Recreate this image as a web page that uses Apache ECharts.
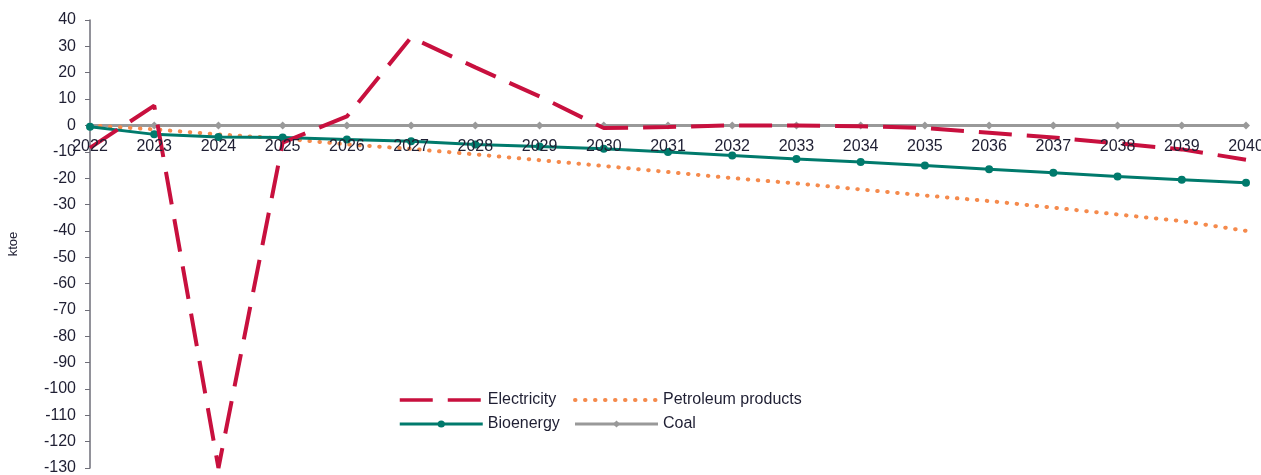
<!DOCTYPE html>
<html><head><meta charset="utf-8">
<script src="https://cdn.jsdelivr.net/npm/echarts@6/dist/echarts.min.js"></script>
<style>html,body{margin:0;padding:0;background:#fff}#c{width:1261px;height:475px}</style>
</head><body><div id="c"></div>
<script>
var years = ['2022','2023','2024','2025','2026','2027','2028','2029','2030','2031','2032','2033','2034','2035','2036','2037','2038','2039','2040'];
var electricity = [-8.5, 7.5, -130, -6.5, 3.4, 33.4, 22, 11, -1, -0.6, 0, 0, -0.3, -1, -2.8, -4.6, -6.8, -9.1, -13];
var petroleum = [0, -1.5, -3.4, -5, -7.2, -8.9, -11, -13.2, -15.4, -17.7, -20, -22, -24.3, -26.6, -28.7, -31.2, -33.8, -36.3, -40];
var bioenergy = [-0.5, -3.4, -4.4, -4.6, -5.3, -6, -7.2, -8, -8.9, -10.1, -11.4, -12.7, -13.9, -15.2, -16.6, -18, -19.4, -20.6, -21.8];
var coal = [0,0,0,0,0,0,0,0,0,0,0,0,0,0,0,0,0,0,0];
var txt = '#1f1f33';
var font = 'Liberation Sans';
var chart = echarts.init(document.getElementById('c'));
chart.setOption({
  animation: false,
  grid: {left: 90, right: 15, top: 20, bottom: 7, containLabel: false, outerBoundsMode: 'none'},
  xAxis: {
    type: 'category', data: years, boundaryGap: false, position: 'bottom', offset: -342,
    axisLine: {show: false, onZero: false},
    axisTick: {show: false},
    axisLabel: {show: true, color: txt, fontFamily: font, fontSize: 16, margin: 13, interval: 0, hideOverlap: false},
    z: 10
  },
  yAxis: {
    type: 'value', min: -130, max: 40, interval: 10,
    name: 'ktoe', nameLocation: 'middle', nameGap: 70, nameRotate: 90,
    nameTextStyle: {color: txt, fontFamily: font, fontSize: 13},
    axisLine: {show: true, lineStyle: {color: '#6e6e78', width: 1.5}},
    axisTick: {show: true, length: 5, lineStyle: {color: '#6e6e78'}},
    axisLabel: {color: txt, fontFamily: font, fontSize: 16, margin: 14},
    splitLine: {show: false}
  },
  legend: [
    {orient: 'vertical', left: 393, top: 387, itemWidth: 83, itemHeight: 9, itemGap: 8,
     data: [{name: 'Electricity', itemStyle: {opacity: 0}, lineStyle: {width: 3.5}},
            {name: 'Bioenergy', lineStyle: {width: 3}}],
     textStyle: {color: txt, fontFamily: font, fontSize: 16}},
    {orient: 'vertical', left: 568, top: 387, itemWidth: 83, itemHeight: 9, itemGap: 8,
     data: [{name: 'Petroleum products', itemStyle: {opacity: 0}, lineStyle: {width: 4}},
            {name: 'Coal', lineStyle: {width: 3}}],
     textStyle: {color: txt, fontFamily: font, fontSize: 16}}
  ],
  series: [
    {name: 'Electricity', type: 'line', data: electricity, symbol: 'none', z: 3,
     lineStyle: {color: '#c8103e', width: 4, type: [33, 15]}, itemStyle: {color: '#c8103e'}},
    {name: 'Petroleum products', type: 'line', data: petroleum, symbol: 'none', z: 2,
     lineStyle: {color: '#f58a4c', width: 4, type: [0.5, 9.5], cap: 'round'}, itemStyle: {color: '#f58a4c'}},
    {name: 'Bioenergy', type: 'line', data: bioenergy, symbol: 'circle', symbolSize: 8, z: 2,
     lineStyle: {color: '#007a6c', width: 3}, itemStyle: {color: '#007a6c'}},
    {name: 'Coal', type: 'line', data: coal, symbol: 'diamond', symbolSize: 8, z: 1,
     lineStyle: {color: '#999999', width: 3}, itemStyle: {color: '#999999'}}
  ]
});
</script></body></html>
